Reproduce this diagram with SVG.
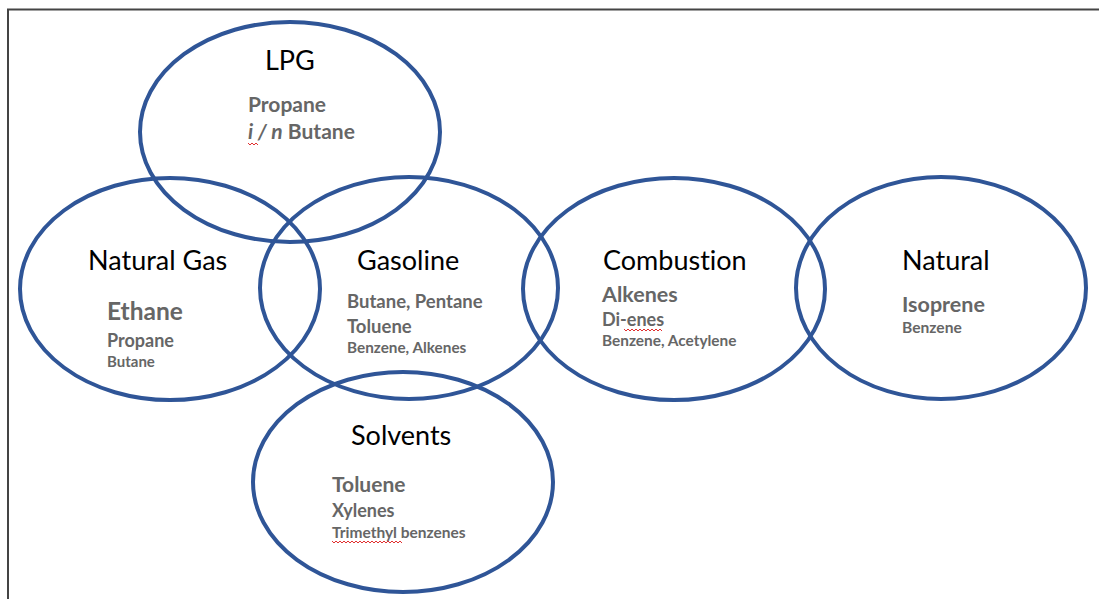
<svg xmlns="http://www.w3.org/2000/svg" width="1099" height="599" viewBox="0 0 1099 599">
<style>
.ring{fill:none;stroke:#2F5597;stroke-width:4}
.t{font-family:Lato,"Open Sans",sans-serif;font-size:27px;fill:#000;font-variant-ligatures:none}
.s{font-family:Lato,"Open Sans",sans-serif;font-weight:bold;fill:#666;font-variant-ligatures:none}
.sq{fill:none;stroke:#E03030;stroke-width:1}
</style>
<rect width="1099" height="599" fill="#fff"/>
<path d="M8,599 V9.5 H1099" fill="none" stroke="#444" stroke-width="2"/>
<g id="lpg">
<ellipse class="ring" cx="290" cy="132" rx="150" ry="110"/>
<text class="t" x="265" y="70">LPG</text>
<text class="s" x="248" y="112" font-size="21">Propane</text>
<text class="s" x="248" y="139" font-size="21"><tspan font-style="italic">i / n</tspan> Butane</text>
<path class="sq" d="M248,143 l2,2 l2,-2 l2,2 l2,-2 l2,2"/>
</g>
<g id="natural-gas">
<ellipse class="ring" cx="170" cy="289" rx="150" ry="111"/>
<text class="t" x="88" y="270">Natural Gas</text>
<text class="s" x="107" y="320" font-size="24.5">Ethane</text>
<text class="s" x="107" y="347" font-size="18">Propane</text>
<text class="s" x="107" y="367" font-size="15">Butane</text>
</g>
<g id="gasoline">
<ellipse class="ring" cx="409" cy="288" rx="149" ry="111"/>
<text class="t" x="357" y="270">Gasoline</text>
<text class="s" x="347" y="308" font-size="18.5">Butane, Pentane</text>
<text class="s" x="347" y="333" font-size="18.5">Toluene</text>
<text class="s" x="347" y="353" font-size="15.3">Benzene, Alkenes</text>
</g>
<g id="combustion">
<ellipse class="ring" cx="674" cy="289" rx="151" ry="111"/>
<text class="t" x="603" y="270">Combustion</text>
<text class="s" x="602" y="302" font-size="21.5">Alkenes</text>
<text class="s" x="602" y="326" font-size="18">Di-enes</text>
<path class="sq" d="M624,329 l2,2 l2,-2 l2,2 l2,-2 l2,2 l2,-2 l2,2 l2,-2 l2,2 l2,-2 l2,2 l2,-2 l2,2 l2,-2 l2,2 l2,-2 l2,2 l2,-2 l2,2"/>
<text class="s" x="602" y="346" font-size="15.4">Benzene, Acetylene</text>
</g>
<g id="natural">
<ellipse class="ring" cx="941" cy="288" rx="145" ry="111"/>
<text class="t" x="902" y="270">Natural</text>
<text class="s" x="902" y="312" font-size="21.5">Isoprene</text>
<text class="s" x="902" y="333" font-size="15.6">Benzene</text>
</g>
<g id="solvents">
<ellipse class="ring" cx="403" cy="482" rx="150" ry="110"/>
<text class="t" x="351" y="445">Solvents</text>
<text class="s" x="332" y="492" font-size="21">Toluene</text>
<text class="s" x="332" y="517" font-size="18">Xylenes</text>
<text class="s" x="332" y="538" font-size="15.5">Trimethyl benzenes</text>
<path class="sq" d="M332,541 l2,2 l2,-2 l2,2 l2,-2 l2,2 l2,-2 l2,2 l2,-2 l2,2 l2,-2 l2,2 l2,-2 l2,2 l2,-2 l2,2 l2,-2 l2,2 l2,-2 l2,2 l2,-2 l2,2 l2,-2 l2,2 l2,-2 l2,2 l2,-2 l2,2 l2,-2 l2,2 l2,-2 l2,2 l2,-2 l2,2 l2,-2 l2,2"/>
</g>
<g id="connectors"></g>
</svg>
